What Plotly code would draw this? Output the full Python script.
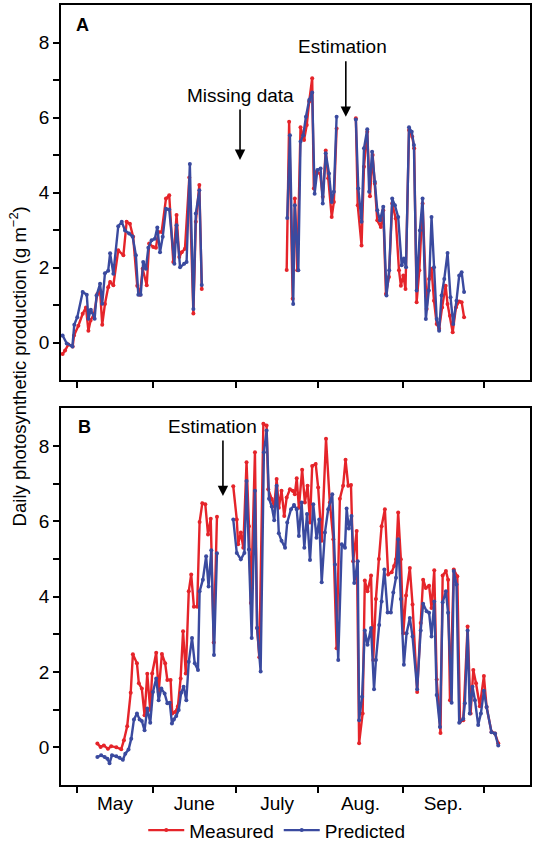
import plotly.graph_objects as go

# ---------------- data (day of year, daily photosynthetic production g m-2) ----------------
months = ["May", "June", "July", "Aug.", "Sep."]
month_bounds = [124, 152, 182.5, 213, 244, 274]

# Panel A - measured
a_meas_day = [118.7, 119.6, 120.8, 122.4, 122.9, 124.5, 126.1, 127.3, 128.2, 129.0, 130.3, 131.5, 132.5,
              133.3, 134.3, 135.5, 136.2, 137.4, 139.2, 141.1, 142.3, 143.5, 144.7, 146.2, 147.2, 148.2,
              149.7, 150.6, 152.1, 153.1, 154.0, 155.2, 156.8, 158.0, 159.5, 160.7, 161.7, 162.6, 163.8,
              165.4, 166.9, 167.8, 169.1, 170.0, None,
              201.3, 202.2, 203.5, 204.3, 205.2, 206.4, 207.7, 208.7, 209.6, 210.7, 211.3, 212.3, 213.6,
              214.6, 215.7, 216.6, 217.9, 218.7, 219.7, None,
              226.8, 227.5, 228.9, 229.8, 231.0, 232.0, 233.0, 233.8, 234.7, 236.0, 236.9, 237.9, 239.0,
              240.2, 241.5, 242.7, 243.4, 244.3, 245.1, 246.4, 247.6, 248.3, 249.2, 250.2, 251.4, 252.9,
              253.8, 254.7, 255.6, 256.6, 257.5, 258.6, 259.9, 260.6, 261.5, 262.5, 263.7, 264.9, 265.8,
              266.7]
a_meas = [-0.30, -0.21, -0.05, -0.10, 0.19, 0.45, 0.77, 0.94, 0.32, 0.59, 0.77, 1.30, 1.39,
          0.48, 1.03, 1.48, 1.62, 1.53, 2.46, 2.33, 3.22, 3.17, 2.82, 1.52, 1.28, 1.97,
          1.53, 2.64, 2.55, 2.53, 2.95, 2.95, 3.84, 3.93, 2.15, 3.40, 2.28, 2.41, 2.50,
          4.40, 0.78, 3.22, 4.20, 1.43, None,
          1.94, 5.89, 1.17, 3.84, 1.93, 5.74, 5.40, 5.80, 6.43, 7.05, 4.11, 4.55, 4.51,
          3.89, 5.12, 4.38, 3.35, 3.75, 5.71, None,
          5.98, 3.66, 2.59, 4.69, 5.62, 3.90, 5.00, 4.24, 3.26, 3.08, 3.53, 1.30, 1.75,
          3.71, 3.31, 1.93, 1.52, 1.79, 1.43, 5.67, 5.49, 5.18, 1.08, 1.93, 3.71, 0.90,
          1.70, 1.97, 1.12, 0.50, 0.37, 0.94, 1.52, 1.03, 0.72, 0.28, 0.94, 1.10, 1.08,
          0.68]

# Panel A - predicted
a_pred_day = [118.7, 120.2, 122.3, 123.0, 124.1, 126.1, 127.6, 128.2, 129.1, 130.5, 131.2, 132.5, 133.3,
              134.3, 135.5, 136.2, 137.4, 139.2, 140.5, 141.7, 143.2, 144.5, 145.7, 146.6, 147.5, 148.4,
              149.4, 150.3, 151.5, 152.7, 153.6, 154.6, 155.6, 156.8, 158.0, 159.9, 160.7, 162.0, 163.5,
              164.4, 165.6, 166.9, 167.8, 169.1, 170.0, None,
              201.5, 202.5, 203.7, 204.3, 205.6, 206.4, 207.4, 208.4, 209.6, 210.7, 211.6, 212.6, 213.8,
              214.6, 215.7, 216.9, 217.9, 218.7, 219.7, None,
              226.8, 227.7, 228.9, 229.8, 231.0, 231.7, 232.8, 233.8, 234.7, 235.7, 236.9, 238.1, 239.1,
              240.2, 241.2, 242.4, 243.7, 244.5, 245.3, 246.4, 247.4, 248.2, 249.2, 250.4, 251.4, 252.6,
              253.7, 254.7, 255.6, 256.6, 257.5, 258.4, 259.4, 260.6, 261.7, 262.7, 263.9, 264.9, 265.8,
              266.7]
a_pred = [0.19, -0.02, -0.10, 0.48, 0.68, 1.35, 1.28, 0.64, 0.88, 0.64, 1.26, 1.57, 1.04,
          1.85, 1.92, 2.38, 1.84, 3.10, 3.22, 2.99, 2.91, 2.83, 2.33, 1.28, 1.28, 2.15,
          1.97, 2.53, 2.73, 2.77, 3.07, 2.41, 2.82, 3.57, 3.55, 2.10, 3.13, 2.01, 2.10,
          2.15, 4.76, 0.90, 3.44, 4.06, 1.54, None,
          3.32, 5.53, 1.03, 3.66, 1.93, 5.36, 5.53, 6.02, 6.47, 6.67, 3.97, 4.60, 4.64,
          3.71, 5.05, 4.51, 3.75, 4.02, 6.02, None,
          5.95, 4.11, 3.22, 5.18, 5.69, 4.02, 5.09, 4.29, 3.53, 3.26, 3.62, 1.26, 1.93,
          3.84, 3.66, 3.35, 2.06, 2.24, 2.01, 5.74, 5.62, 5.27, 1.39, 2.99, 3.84, 0.63,
          1.39, 3.35, 2.01, 0.63, 0.32, 1.26, 1.70, 2.39, 1.21, 0.50, 1.12, 1.79, 1.88,
          1.35]

# Panel B - measured
b_meas_day = [131.5, 132.7, 133.9, 135.4, 136.6, 138.5, 140.3, 141.3, 142.5, 143.8, 144.6, 146.1, 146.8,
              147.9, 148.9, 149.9, 151.0, 151.7, 153.2, 154.1, 155.3, 156.5, 157.3, 158.5, 159.1, 160.2,
              161.2, 162.2, 163.1, 164.1, 165.2, 166.1, 167.1, 168.3, 169.2, 170.2, 171.3, 172.3, 173.3,
              174.4, 175.6, None,
              181.6, 182.9, 183.4, 184.4, 185.3, 186.5, 187.4, 188.1, 189.6, 190.4, 191.2, 192.7, 193.9,
              194.5, 195.8, 196.7, 197.6, 198.4, 199.4, 200.4, 201.3, 202.5, 203.5, 204.3, 205.0, 205.8,
              207.0, 208.0, 209.0, 209.9, 210.7, 212.0, 212.9, 214.2, 215.8, 217.2, 218.5, 219.7, 220.9,
              222.1, 223.0, 224.0, 225.0, 225.8, 227.1, 228.0, 229.3, 230.1, 231.1, 232.4, 233.2, 234.2,
              235.3, 236.3, 237.5, 238.7, 240.0, 240.9, 241.6, 242.4, 243.4, 244.3, 245.3, 246.7, 247.7,
              249.4, 250.7, 251.6, 252.6, 253.8, 254.7, 255.7, 256.6, 258.0, 258.8, 260.0, 260.8, 261.5,
              262.9, 264.2, 265.2, 266.4, 268.0, 269.1, 270.1, 271.1, 272.5, 274.0, 275.0, 276.8, 278.1,
              279.3]
b_meas = [0.10, 0.01, 0.05, -0.04, 0.03, 0.00, -0.05, 0.19, 0.56, 1.45, 2.47, 2.23, 1.70,
          1.56, 0.85, 1.95, 0.99, 1.96, 2.51, 1.47, 2.48, 2.23, 1.79, 1.79, 0.90, 0.94,
          1.09, 1.83, 3.08, 1.96, 4.14, 4.59, 3.73, 3.73, 5.98, 6.48, 6.45, 5.65, 6.07,
          2.78, 6.12, None,
          6.93, 6.05, 5.39, 5.70, 5.30, 7.57, 5.87, 3.83, 7.83, 3.17, 2.39, 8.59, 8.54,
          6.85, 6.59, 6.39, 7.12, 6.36, 6.81, 6.14, 6.63, 6.85, 6.81, 6.72, 7.14, 6.36,
          7.37, 6.50, 6.94, 5.97, 7.47, 7.52, 6.90, 5.48, 8.19, 6.50, 5.52, 2.63, 6.60,
          6.94, 7.63, 6.94, 6.96, 4.94, 5.74, 0.11, 0.90, 4.43, 4.14, 4.56, 2.32, 3.94,
          5.00, 5.87, 6.32, 4.59, 4.65, 4.81, 4.99, 6.23, 4.99, 3.03, 4.03, 4.76, 3.79,
          1.47, 3.30, 4.45, 4.23, 4.29, 3.70, 4.70, 1.80, 0.38, 4.56, 4.68, 4.45, 1.25,
          4.72, 4.54, 0.68, 0.72, 3.21, 0.90, 2.05, 1.70, 1.09, 1.89, 1.07, 0.41, 0.37,
          0.11]

# Panel B - predicted
b_pred_day = [131.5, 132.9, 134.2, 135.2, 136.0, 136.9, 138.5, 139.7, 140.9, 141.8, 143.0, 144.0, 145.0,
              146.1, 147.1, 147.9, 148.9, 149.9, 151.0, 152.0, 153.2, 154.1, 155.1, 156.3, 157.3, 158.2,
              159.0, 159.7, 160.6, 161.5, 162.4, 163.3, 164.3, 165.2, 166.4, 167.4, 168.6, 169.2, 170.4,
              171.6, 172.5, 173.5, 174.5, 175.6, None,
              181.6, 182.9, 184.4, 185.7, 186.5, 187.4, 188.4, 189.6, 190.4, 191.7, 192.9, 193.9, 194.8,
              195.8, 196.7, 197.6, 198.4, 199.4, 200.7, 201.5, 202.9, 204.0, 205.0, 205.8, 206.8, 207.8,
              208.8, 209.9, 211.1, 212.3, 213.3, 214.2, 215.4, 216.6, 218.1, 219.1, 220.3, 221.6, 222.8,
              223.4, 224.2, 225.2, 226.2, 227.5, 228.0, 229.1, 230.1, 231.1, 232.4, 233.5, 234.2, 235.4,
              236.3, 237.3, 238.5, 239.7, 240.6, 241.6, 242.4, 243.4, 244.5, 245.5, 246.7, 247.7, 249.4,
              250.7, 251.6, 252.9, 253.8, 254.7, 255.7, 256.6, 257.8, 258.8, 260.0, 260.8, 262.1, 262.9,
              263.9, 264.9, 266.4, 267.0, 268.0, 268.8, 269.8, 270.7, 271.9, 272.9, 274.0, 275.0, 276.8,
              278.1, 279.3]
b_pred = [-0.26, -0.21, -0.26, -0.30, -0.42, -0.21, -0.24, -0.28, -0.33, -0.17, -0.06, 0.23, 0.74,
          0.90, 0.74, 0.70, 0.45, 1.03, 0.65, 1.47, 1.83, 1.25, 1.56, 1.43, 1.17, 1.18,
          0.63, 0.74, 0.83, 0.99, 1.45, 1.61, 1.25, 2.27, 2.90, 2.23, 2.05, 4.14, 4.45,
          5.07, 4.27, 5.23, 2.45, 5.15, None,
          6.05, 5.16, 4.99, 5.16, 7.07, 5.25, 2.90, 6.81, 3.17, 2.01, 7.83, 8.41, 6.60,
          6.39, 6.03, 6.94, 5.68, 5.48, 5.30, 5.97, 6.32, 6.43, 6.32, 5.61, 6.50, 5.30,
          6.19, 4.97, 6.45, 5.56, 6.05, 4.38, 5.70, 6.32, 6.72, 4.85, 2.32, 5.39, 5.30,
          6.34, 5.81, 6.14, 4.36, 4.94, 0.72, 1.34, 3.10, 2.72, 3.17, 1.54, 2.32, 3.25,
          3.87, 4.72, 3.58, 3.58, 4.11, 4.50, 5.52, 3.94, 2.19, 3.03, 3.43, 2.94, 1.54,
          3.10, 3.81, 3.61, 3.57, 2.94, 3.87, 1.39, 0.54, 3.85, 4.14, 3.57, 1.18, 4.68,
          4.32, 0.65, 0.76, 1.17, 3.10, 0.90, 1.61, 1.25, 0.59, 0.90, 1.50, 1.07, 0.40,
          0.37, 0.05]

# ---------------- figure ----------------
RED = "#E5242A"
BLUE = "#3A4A9F"
FONT = "Liberation Sans, Arial, sans-serif"

fig = go.Figure()

def add_series(x, y, color, name, xa, ya, show):
    fig.add_trace(go.Scatter(
        x=x, y=y, mode="lines+markers", name=name, xaxis=xa, yaxis=ya,
        line=dict(color=color, width=2.4), marker=dict(color=color, size=4),
        connectgaps=False, showlegend=show))

add_series(a_meas_day, a_meas, RED, "Measured", "x", "y", True)
add_series(a_pred_day, a_pred, BLUE, "Predicted", "x", "y", True)
add_series(b_meas_day, b_meas, RED, "Measured", "x2", "y2", False)
add_series(b_pred_day, b_pred, BLUE, "Predicted", "x2", "y2", False)

mid_months = [(month_bounds[i] + month_bounds[i + 1]) / 2 for i in range(len(months))]

common_x = dict(range=[118.1, 291], showline=True, linecolor="black", linewidth=1.8, mirror=True,
                showgrid=False, zeroline=False, tickfont=dict(size=19, color="black", family=FONT),
                tickvals=mid_months, ticks="", automargin=False,
                minor=dict(tickvals=month_bounds, ticks="outside", ticklen=6, tickwidth=1.5,
                           tickcolor="black", showgrid=False))
common_y = dict(range=[-1, 9], showline=True, linecolor="black", linewidth=1.8, mirror=True,
                showgrid=False, zeroline=False, tickvals=[0, 2, 4, 6, 8], ticks="outside",
                ticklen=6, tickwidth=1.5, tickcolor="black", automargin=False,
                tickfont=dict(size=19, color="black", family=FONT),
                minor=dict(tickvals=[1, 3, 5, 7], ticks="outside", ticklen=6, tickwidth=1.5,
                           tickcolor="black"))

fig.update_layout(
    width=535, height=844,
    margin=dict(l=61, r=5, t=5, b=59, autoexpand=False),
    paper_bgcolor="white", plot_bgcolor="white",
    font=dict(family=FONT, size=19, color="black"),
    xaxis=dict(common_x, domain=[0, 1], anchor="y", showticklabels=False),
    yaxis=dict(common_y, domain=[0.519, 1], anchor="x"),
    xaxis2=dict(common_x, domain=[0, 1], anchor="y2", ticktext=months, ticklabelstandoff=0),
    yaxis2=dict(common_y, domain=[0, 0.483], anchor="x2"),
    legend=dict(orientation="h", x=0.46, xanchor="center", y=-0.058, yanchor="middle",
                font=dict(size=19, family=FONT, color="black"), bgcolor="rgba(0,0,0,0)",
                itemwidth=36, tracegroupgap=0),
    showlegend=True,
)

ann = []
# y title
ann.append(dict(text="Daily photosynthetic production (g m<sup>−2</sup>)", xref="paper", yref="paper",
                x=-0.092, y=0.5365, xanchor="center", yanchor="middle", textangle=-90, showarrow=False,
                font=dict(size=18.5, family=FONT, color="black")))
# panel letters
ann.append(dict(text="<b>A</b>", x=126.2, y=8.48, xref="x", yref="y", showarrow=False,
                font=dict(size=18, family=FONT)))
ann.append(dict(text="<b>B</b>", x=126.6, y=8.51, xref="x2", yref="y2", showarrow=False,
                font=dict(size=18, family=FONT)))
# labels
ann.append(dict(text="Missing data", x=184.1, y=6.6, xref="x", yref="y", showarrow=False,
                font=dict(size=19, family=FONT)))
ann.append(dict(text="Estimation", x=222.0, y=7.89, xref="x", yref="y", showarrow=False,
                font=dict(size=19, family=FONT)))
ann.append(dict(text="Estimation", x=174.1, y=8.51, xref="x2", yref="y2", showarrow=False,
                font=dict(size=19, family=FONT)))
# arrows
for xr, yr, xv, yv, ay in [("x", "y", 184.1, 4.87, -52), ("x", "y", 223.1, 6.02, -57),
                           ("x2", "y2", 177.8, 6.67, -57)]:
    ann.append(dict(text="", x=xv, y=yv, xref=xr, yref=yr, showarrow=True, ax=0, ay=ay,
                    arrowhead=2, arrowsize=1.3, arrowwidth=1.6, arrowcolor="black"))

fig.update_layout(annotations=ann)
fig.write_html("out.html", config={"displayModeBar": False},
               post_script="document.body.style.margin='0';document.body.style.overflow='hidden';")
